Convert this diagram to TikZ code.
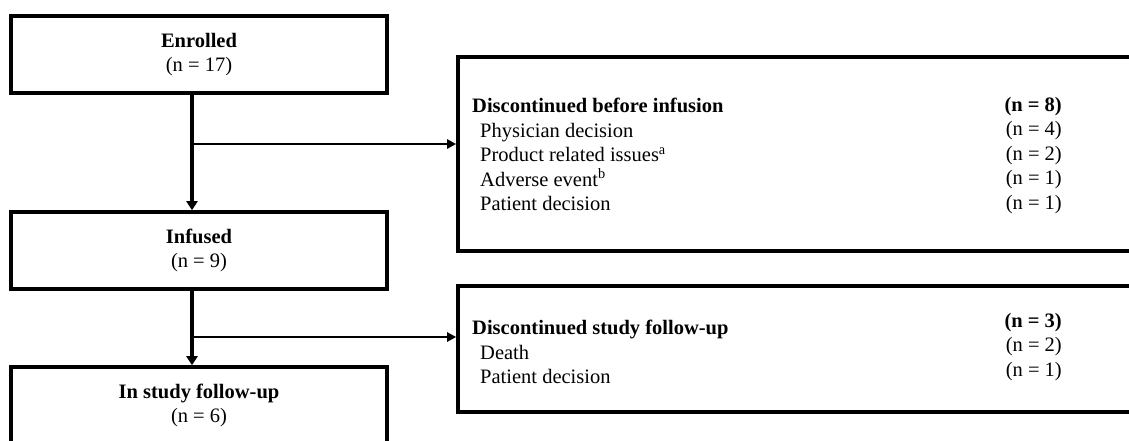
\documentclass[tikz,border=0pt]{standalone}
\usepackage{fontspec}
\setmainfont{Liberation Serif}
\usetikzlibrary{arrows.meta}
\tikzset{
	flowbox/.style={draw, line width=3.6pt, minimum width=376pt, minimum height=77pt, inner sep=0pt, align=center, font=\fontsize{20.5}{24.5}\selectfont},
	sidebox/.style={draw, line width=3.6pt, minimum width=687pt, inner sep=0pt},
	sidetext/.style={inner sep=0pt, align=left, font=\fontsize{20.5}{24.5}\selectfont},
	sidecount/.style={inner sep=0pt, align=right, font=\fontsize{20.5}{24.5}\selectfont},
	downarrow/.style={line width=3.2pt, -{Triangle[width=11pt,length=9pt]}},
	sidearrow/.style={line width=2.8pt, -{Triangle[width=9pt,length=9pt]}}
}

\begin{document}
\begin{tikzpicture}[x=1pt, y=-1pt]
		%%%%% START %%%%%
		\useasboundingbox (0,0) rectangle (1129,440);
		\clip (0,0) rectangle (1129,440);
		
		\node[flowbox] (enrolled) at (199,54.5) {\textbf{Enrolled}\\(n = 17)};
		\node[flowbox] (infused) at (199,250.5) {\textbf{Infused}\\(n = 9)};
		\node[flowbox] (followup) at (199,405.5) {\textbf{In study follow-up}\\(n = 6)};
		
		\node[sidebox, minimum height=194pt] (discinf) at (801.5,154) {};
		\node[sidebox, minimum height=126pt] (discfu) at (801.5,349) {};
		
		\draw[downarrow] ([xshift=-7pt]enrolled.south) -- ([xshift=-7pt]infused.north);
		\draw[downarrow] ([xshift=-7pt]infused.south) -- ([xshift=-7pt]followup.north);
		
		\coordinate (splitinf) at (192,144);
		\coordinate (splitfu) at (192,337);
		\draw[sidearrow] (splitinf) -- (splitinf -| discinf.west);
		\draw[sidearrow] (splitfu) -- (splitfu -| discfu.west);
		
		\node[sidetext, anchor=north west] (discinflist) at (472,98) {\textbf{Discontinued before infusion}\\\hspace*{8pt}Physician decision\\\hspace*{8pt}Product related issues\textsuperscript{a}\\\hspace*{8pt}Adverse event\textsuperscript{b}\\\hspace*{8pt}Patient decision};
		\node[sidecount, anchor=north east] (discinfn) at (1062,97) {\textbf{(n = 8)}\\(n = 4)\\(n = 2)\\(n = 1)\\(n = 1)};
		
		\node[sidetext, anchor=north west] (discfulist) at (472,320) {\textbf{Discontinued study follow-up}\\\hspace*{8pt}Death\\\hspace*{8pt}Patient decision};
		\node[sidecount, anchor=north east] (discfun) at (1062,313) {\textbf{(n = 3)}\\(n = 2)\\(n = 1)};
		
		%%%%% END %%%%%
\end{tikzpicture}
\end{document}
